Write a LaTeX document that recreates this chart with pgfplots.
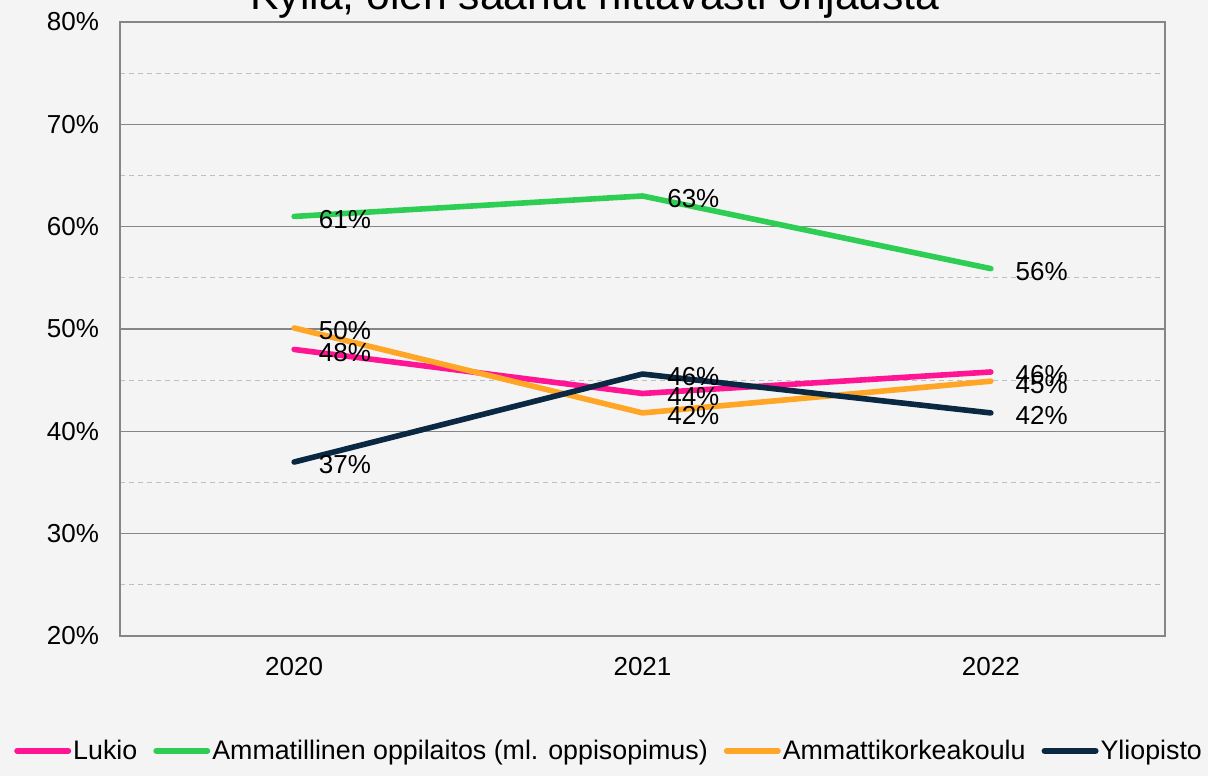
\documentclass[border=0pt]{standalone}
\usepackage{pgfplots}
\pgfplotsset{compat=1.18}
\usepackage{fontspec}
\setmainfont{Liberation Sans}
\definecolor{bg}{RGB}{244,244,244}
\definecolor{gridgray}{RGB}{134,134,134}
\definecolor{minorgray}{RGB}{190,190,190}
\definecolor{cPink}{RGB}{255,20,147}
\definecolor{cGreen}{RGB}{46,206,84}
\definecolor{cOrange}{RGB}{255,166,38}
\definecolor{cNavy}{RGB}{10,40,66}
\pgfplotstableread{
x y lab
0 48.0 48\%
1 43.7 44\%
2 45.8 46\%
}\lukio
\pgfplotstableread{
x y lab
0 61.0 61\%
1 63.0 63\%
2 55.9 56\%
}\ammat
\pgfplotstableread{
x y lab
0 50.1 50\%
1 41.8 42\%
2 44.9 45\%
}\amk
\pgfplotstableread{
x y lab
0 37.0 37\%
1 45.6 46\%
2 41.8 42\%
}\yliop
\begin{document}
\begin{tikzpicture}
\fill[bg] (-60pt,-70pt) rectangle (544pt,318pt);
\begin{axis}[
  scale only axis, width=522.5pt, height=307pt,
  xmin=-0.5, xmax=2.5, ymin=20, ymax=80,
  xtick={0,1,2}, xticklabels={2020,2021,2022},
  ytick={20,30,...,80}, yticklabels={20\%,30\%,40\%,50\%,60\%,70\%,80\%},
  minor ytick={25,35,...,75},
  ymajorgrids, yminorgrids,
  major grid style={draw=gridgray, line width=0.75pt},
  minor grid style={draw=minorgray, line width=0.6pt, dash pattern=on 2.5pt off 2pt},
  axis line style={draw=gridgray, line width=0.75pt},
  major tick length=0pt, minor tick length=0pt,
  tick label style={font=\fontsize{13}{15}\selectfont, text=black},
  yticklabel style={xshift=-7pt},
  xticklabel style={yshift=-7pt},
  clip=false,
  every axis plot/.append style={line width=2.8pt, line cap=round, line join=round, mark=none},
  point meta=explicit symbolic,
  nodes near coords,
  every node near coord/.append style={anchor=west, inner sep=0pt, xshift=11pt, yshift=-1.5pt, font=\fontsize{13}{15}\selectfont, text=black},
  legend columns=4,
  legend style={at={(0.468,-0.187)}, anchor=center, draw=none, fill=none,
    font=\fontsize{13.4}{15}\selectfont,
    /tikz/every even column/.append style={column sep=7pt},
    nodes={inner sep=1pt}},
  legend image code/.code={\draw[#1, line width=3pt, line cap=round] (0pt,0pt) -- (25.5pt,0pt);},
]
\addplot[cPink] table[x=x, y=y, meta=lab] {\lukio};
\addlegendentry{Lukio}
\addplot[cGreen] table[x=x, y=y, meta=lab] {\ammat};
\addlegendentry{Ammatillinen oppilaitos (ml. oppisopimus)}
\addplot[cOrange] table[x=x, y=y, meta=lab] {\amk};
\addlegendentry{Ammattikorkeakoulu}
\addplot[cNavy] table[x=x, y=y, meta=lab] {\yliop};
\addlegendentry{Yliopisto}
\end{axis}
\node[anchor=base, font=\fontsize{21.3}{25}\selectfont] at (237.5pt,313pt) {Kyllä, olen saanut riittävästi ohjausta};
\pgfresetboundingbox
\useasboundingbox (-60pt,-70pt) rectangle (544pt,318pt);
\end{tikzpicture}
\end{document}
